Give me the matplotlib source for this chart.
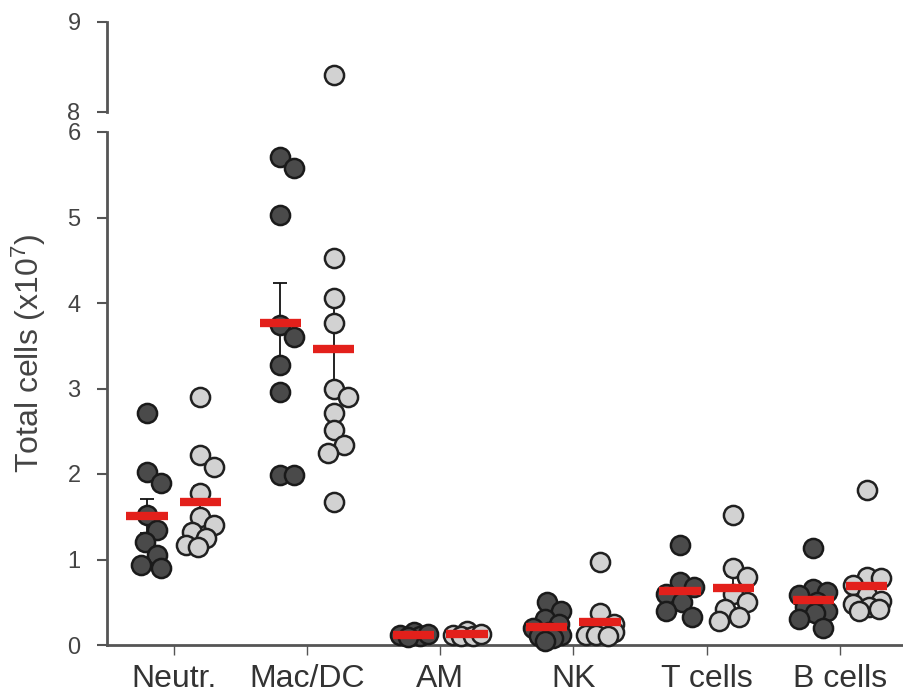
import numpy as np
import matplotlib.pyplot as plt

plt.rcParams['font.family'] = ['Liberation Sans', 'DejaVu Sans']
plt.rcParams['mathtext.default'] = 'regular'

categorias = ['Neutr.', 'Mac/DC', 'AM', 'NK', 'T cells', 'B cells']

# grupo escuro (x10^7 células)
neutr_esc = [2.71, 2.02, 1.89, 1.52, 1.35, 1.20, 1.05, 0.90, 0.94]
mac_esc = [5.71, 5.58, 5.03, 3.74, 3.60, 3.27, 2.96, 1.99, 1.99]
am_esc = [0.15, 0.12, 0.10, 0.13, 0.09]
nk_esc = [0.50, 0.40, 0.30, 0.25, 0.20, 0.15, 0.12, 0.10, 0.08, 0.05]
t_esc = [1.17, 0.74, 0.68, 0.60, 0.50, 0.40, 0.33]
b_esc = [1.13, 0.65, 0.62, 0.58, 0.50, 0.45, 0.40, 0.38, 0.30, 0.20]

# grupo claro
neutr_cla = [2.90, 2.22, 2.08, 1.78, 1.50, 1.40, 1.32, 1.25, 1.17, 1.15]
mac_cla = [8.41, 4.53, 4.06, 3.77, 3.00, 2.90, 2.71, 2.51, 2.34, 2.24, 1.67]
am_cla = [0.16, 0.12, 0.10, 0.11, 0.13]
nk_cla = [0.97, 0.38, 0.25, 0.20, 0.18, 0.15, 0.12, 0.12, 0.10]
t_cla = [1.52, 0.90, 0.80, 0.60, 0.50, 0.42, 0.33, 0.28]
b_cla = [1.81, 0.80, 0.78, 0.70, 0.58, 0.52, 0.48, 0.44, 0.42, 0.40]

escuros = [neutr_esc, mac_esc, am_esc, nk_esc, t_esc, b_esc]
claros = [neutr_cla, mac_cla, am_cla, nk_cla, t_cla, b_cla]

PX_X = 133.5  # pixels por categoria
PX_Y = 85.5   # pixels por unidade no eixo y


def enxame(valores, dist=17.0, maximo=14):
    # desloca os pontos na horizontal (com alguma sobreposição permitida)
    ys = np.array(valores) * PX_Y
    xs = np.zeros(len(ys))
    candidatos = [0.0]
    for k in range(1, maximo // 2 + 1):
        candidatos += [k * 2.0, -k * 2.0]
    colocados = []
    for i in np.argsort(-ys):
        melhor, melhor_d = 0.0, -1.0
        for c in candidatos:
            d = min([np.hypot(c - xs[j], ys[i] - ys[j]) for j in colocados] + [1e9])
            if d >= dist:
                melhor = c
                break
            if d > melhor_d:
                melhor, melhor_d = c, d
        xs[i] = melhor
        colocados.append(i)
    return xs / PX_X


fig = plt.figure(figsize=(9.04, 7.0), dpi=100)
esq = 107 / 904
ax = fig.add_axes([esq, 55 / 700, 1 - esq, (645 - 132) / 700])
ax_sup = fig.add_axes([esq, (700 - 112) / 700, 1 - esq, 90 / 700])

cor_eixo = '#555555'
cor_texto = '#444444'

estilos = [
    (escuros, -0.2, '#4a4a4a', '#1a1a1a'),
    (claros, 0.2, '#d2d2d2', '#202020'),
]

for grupos, desloc, cor, borda in estilos:
    for i, vals in enumerate(grupos):
        vals = np.array(vals)
        xc = i + desloc
        xs = xc + enxame(vals)
        baixo = vals < 7
        ax.scatter(xs[baixo], vals[baixo], s=190, c=cor, edgecolors=borda,
                   linewidths=1.8, zorder=3, clip_on=False)
        if (~baixo).any():
            ax_sup.scatter(xs[~baixo], vals[~baixo], s=190, c=cor, edgecolors=borda,
                           linewidths=1.8, zorder=3, clip_on=False)
        media = vals.mean()
        sem = vals.std(ddof=1) / np.sqrt(len(vals))
        ax.errorbar(xc, media, yerr=sem, fmt='none', ecolor='#111111',
                    elinewidth=1.3, capsize=5, capthick=1.3, zorder=2)
        ax.plot([xc - 0.155, xc + 0.155], [media, media], color='#e3201b',
                lw=6, solid_capstyle='butt', zorder=4)

for a in (ax, ax_sup):
    a.set_xlim(-0.5, 5.48)
    a.spines['top'].set_visible(False)
    a.spines['right'].set_visible(False)
    a.spines['left'].set_color(cor_eixo)
    a.spines['left'].set_linewidth(2)
    a.tick_params(axis='y', length=7, width=1.5, color=cor_eixo, pad=12,
                  labelsize=17, labelcolor=cor_texto)
    a.patch.set_visible(False)

ax.set_ylim(0, 6)
ax.set_yticks(range(0, 7))
ax.spines['bottom'].set_color(cor_eixo)
ax.spines['bottom'].set_linewidth(2)
ax.set_xticks(range(len(categorias)))
ax.set_xticklabels(categorias)
ax.tick_params(axis='x', length=7, width=1, color=cor_eixo, pad=7,
               labelsize=23, labelcolor='#333333')

ax_sup.set_ylim(8, 9)
ax_sup.set_yticks([8, 9])
ax_sup.spines['bottom'].set_visible(False)
ax_sup.set_xticks([])

fig.text(0.032, 0.496, 'Total cells (x10$^7$)', rotation=90, ha='center',
         va='center', fontsize=23, color=cor_texto)

fig.savefig('out.png', dpi=100)
